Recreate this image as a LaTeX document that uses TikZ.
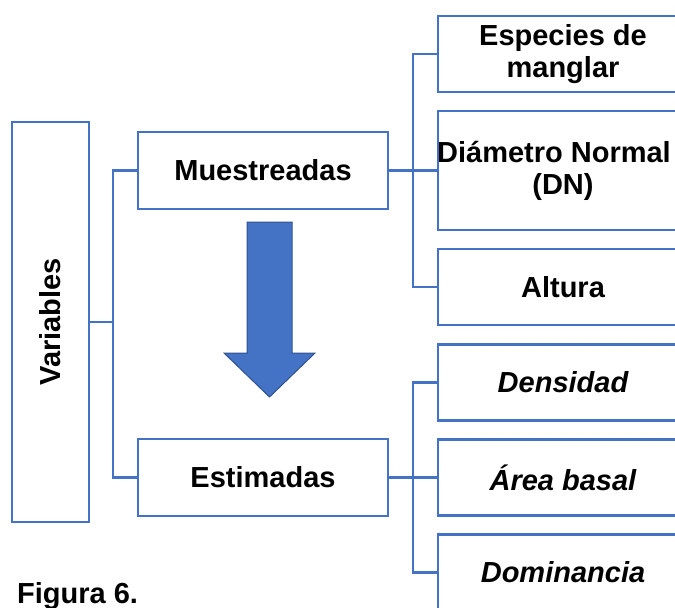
\documentclass[tikz,border=0pt]{standalone}
\usepackage{fontspec}
\setmainfont{Liberation Sans}
\usetikzlibrary{positioning}
\definecolor{lineblue}{HTML}{4472C4}
\definecolor{arrowedge}{HTML}{2F528F}
\tikzset{
  box/.style={draw=lineblue, line width=2.8pt, fill=white, inner sep=0pt, outer sep=0pt,
    align=center, font=\fontsize{29}{32}\selectfont\bfseries},
  leaf/.style={box, minimum width=250pt, minimum height=76pt},
  link/.style={draw=lineblue, line width=2.8pt},
}
\begin{document}
\begin{tikzpicture}[x=1pt, y=-1pt, node distance=19pt]
\useasboundingbox (0,0) rectangle (675,608);
\node[box, minimum width=77pt, minimum height=400pt] (v) at (50.5,322) {\rotatebox{90}{Variables}};
\node[box, minimum width=250pt, minimum height=77pt] (m) at (263,170.5) {Muestreadas};
\node[box, minimum width=250pt, minimum height=77pt, below=230pt of m] (e) {Estimadas};
\node[leaf, minimum height=119pt, right=50pt of m] (m2) {\hspace*{-18pt}Diámetro Normal\\(DN)};
\node[leaf, above=of m2] (m1) {Especies de\\manglar};
\node[leaf, below=of m2] (m3) {Altura};
\node[leaf, right=50pt of e] (e2) {\itshape Área basal};
\node[leaf, above=of e2] (e1) {\itshape Densidad};
\node[leaf, below=of e2] (e3) {\itshape Dominancia};
\node[anchor=base west, inner sep=0pt, font=\fontsize{29}{32}\selectfont\bfseries] (fig) at (17,603) {Figura 6.};
\draw[link] (v.east) -- ++(24,0) coordinate (vj) |- (m.west);
\draw[link] (vj) |- (e.west);
\draw[link] (m.east) -- ++(25,0) coordinate (mj) |- (m1.west);
\draw[link] (mj) |- (m3.west);
\draw[link] (m.east) -- (m2.west);
\draw[link] (e.east) -- ++(25,0) coordinate (ej) |- (e1.west);
\draw[link] (ej) |- (e3.west);
\draw[link] (e.east) -- (e2.west);
\draw[draw=arrowedge, line width=1pt, fill=lineblue]
  (247,222) -- (292,222) -- (292,353) -- (315,353) -- (269.5,397) -- (224,353) -- (247,353) -- cycle;
\end{tikzpicture}
\end{document}
